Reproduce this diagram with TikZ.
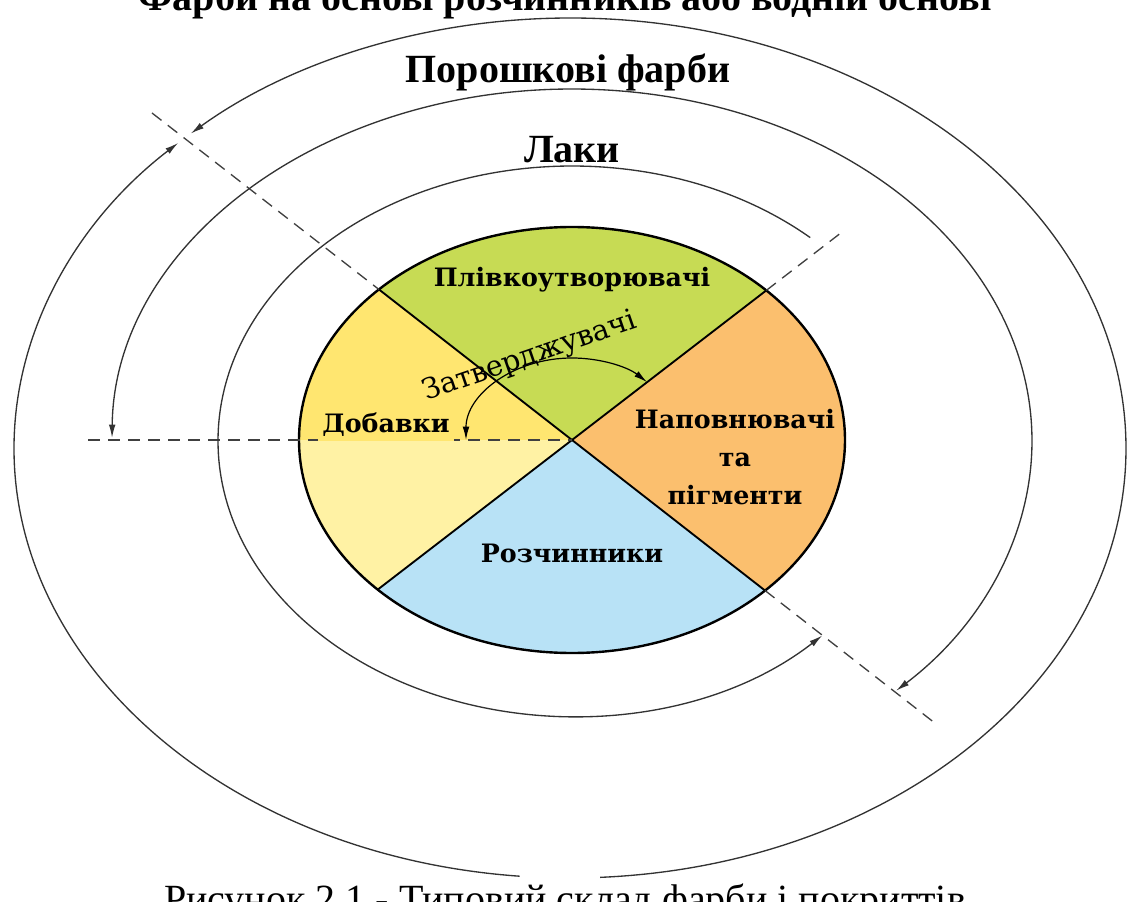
\documentclass[tikz,border=0pt]{standalone}
\usepackage{fontspec}
\setmainfont{Liberation Serif}
\newfontfamily\sectorfont{DejaVu Serif}
\usetikzlibrary{arrows.meta}

\definecolor{filmgreen}{RGB}{199,219,84}
\definecolor{fillorange}{RGB}{251,191,110}
\definecolor{solvblue}{RGB}{184,226,246}
\definecolor{addyellow}{RGB}{255,230,112}
\definecolor{addpale}{RGB}{255,242,164}

\tikzset{
  ring/.style={draw=black!80, line width=1pt},
  guide/.style={draw=black!75, line width=1pt, dash pattern=on 9pt off 6pt},
  divider/.style={draw=black, line width=1.4pt},
  tipend/.style={-{Latex[length=10pt,width=5pt]}},
  tipboth/.style={{Latex[length=10pt,width=5pt]}-{Latex[length=10pt,width=5pt]}},
  ringlbl/.style={font=\bfseries\fontsize{30}{32}\selectfont, inner sep=0pt},
  sectorlbl/.style={font=\sectorfont\bfseries\fontsize{19}{28.5}\selectfont, inner sep=1pt, align=center},
}

\begin{document}
\begin{tikzpicture}[x=0.75pt,y=0.75pt,yscale=-1,xscale=1]
\path[use as bounding box, clip] (0,0) rectangle (1129,902);

% centre and ends of the guide lines
\coordinate (O) at (572,440);
\coordinate (ul) at (379,289.5);
\coordinate (lr) at (765,590.5);
\coordinate (ur) at (766.3,290.4);
\coordinate (ll) at (377.7,589.6);
\coordinate (ulend) at (152,113);
\coordinate (lrend) at (938,725.5);
\coordinate (urend) at (840,233.6);
\coordinate (hend) at (88,440);

%Sectors
\begin{scope}
\clip (O) ellipse [x radius=273, y radius=213];
\fill[filmgreen] (O) -- (-28,-28) -- (1172,-22) -- cycle;
\fill[fillorange] (O) -- (1172,-22) -- (1172,908) -- cycle;
\fill[solvblue] (O) -- (1172,908) -- (-28,902) -- cycle;
\fill[addpale] (O) -- (-28,902) -- (-28,440) -- cycle;
\fill[addyellow] (O) -- (-28,440) -- (-28,-28) -- cycle;
\end{scope}
\draw[line width=1.8pt] (O) ellipse [x radius=273, y radius=213];

%Straight Lines
\draw[divider] (ul) -- (lr);
\draw[divider] (ll) -- (ur);
\draw[guide] (ulend) -- (ul);
\draw[guide] (lr) -- (lrend);
\draw[guide] (ur) -- (urend);
\draw[guide] (hend) -- (O);

%Rings
% Лаки
\draw[ring, tipend] ([shift={(572,441)}]-47.7:354 and 275) arc[start angle=-47.7, end angle=-315, x radius=354, y radius=275];
% Порошкові фарби
\draw[ring, tipboth] ([shift={(572,441)}]180.5:460 and 352) arc[start angle=180.5, end angle=405.2, x radius=460, y radius=352];
% outer ring, two halves
\draw[ring, tipend] ([shift={(570,448)}]95.2:556 and 430) arc[start angle=95.2, end angle=225.2, x radius=556, y radius=430];
\draw[ring, tipend] ([shift={(570,448)}]86.9:556 and 430) arc[start angle=86.9, end angle=-133, x radius=556, y radius=430];
% inner arrow
\draw[line width=0.9pt, tipboth] ([shift={(572,440)}]180:106 and 82) arc[start angle=180, end angle=315.1, x radius=106, y radius=82];

% Text Node
\node[ringlbl] (top) at (565,0) {Фарби на основі розчинників або водній основі};
% Text Node
\node[ringlbl] (powder) at (568,72) {Порошкові фарби};
% Text Node
\node[ringlbl] (lacq) at (572,150) {Лаки};
% Text Node
\node[sectorlbl] (film) at (572,280) {Плівкоутворювачі};
% Text Node
\node[sectorlbl] (fillers) at (735,457) {Наповнювачі\\та\\пігменти};
% Text Node
\node[sectorlbl] (solv) at (572,553) {Розчинники};
% Text Node
\node[sectorlbl, fill=addyellow, inner sep=3pt] (addit) at (386,425) {Добавки};
% Text Node
\node[font=\sectorfont\fontsize{21.5}{23}\selectfont, rotate=19] (hard) at (530,357) {Затверджувачі};
% Text Node
\node[font=\fontsize{30}{32}\selectfont, anchor=base] (cap) at (565,912) {Рисунок 2.1 - Типовий склад фарби і покриттів};
\end{tikzpicture}
\end{document}
